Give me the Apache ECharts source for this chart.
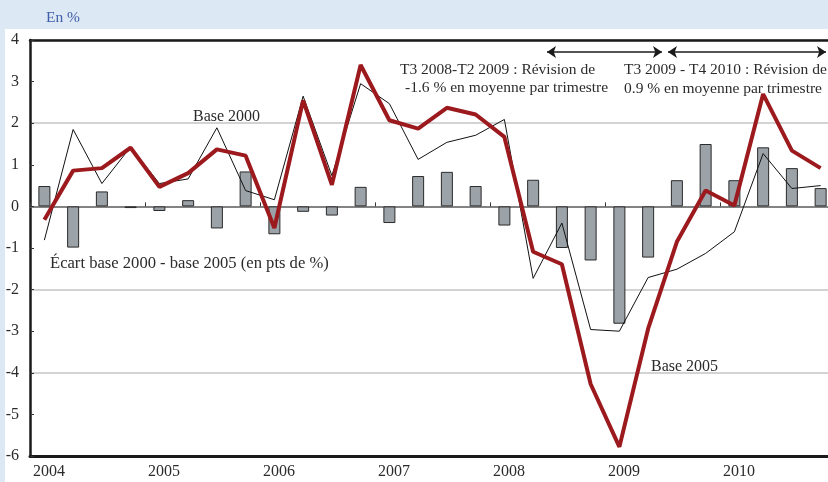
<!DOCTYPE html>
<html lang="fr">
<head>
    <meta charset="UTF-8">
    <title>Base 2000 / Base 2005</title>
    <style>
        html, body { margin: 0; padding: 0; overflow: hidden; background: #dde8f5; }
    </style>
</head>
<body>
<div id="container" style="width: 845px; height: 482px;"></div>

<script type="text/javascript" src="https://cdn.jsdelivr.net/npm/echarts@6/dist/echarts.min.js"></script>
<script type="text/javascript">
    // trimestres 2004T1 - 2010T4
    var quarters = [
        '2004T1', '2004T2', '2004T3', '2004T4',
        '2005T1', '2005T2', '2005T3', '2005T4',
        '2006T1', '2006T2', '2006T3', '2006T4',
        '2007T1', '2007T2', '2007T3', '2007T4',
        '2008T1', '2008T2', '2008T3', '2008T4',
        '2009T1', '2009T2', '2009T3', '2009T4',
        '2010T1', '2010T2', '2010T3', '2010T4'
    ];
    var base2000 = [-0.81, 1.85, 0.55, 1.43, 0.55, 0.66, 1.89, 0.38, 0.16, 2.65, 0.74, 2.95,
        2.47, 1.13, 1.54, 1.71, 2.09, -1.73, -0.40, -2.96, -3.00, -1.71, -1.51, -1.13,
        -0.61, 1.27, 0.43, 0.50];
    var base2005 = [-0.32, 0.86, 0.92, 1.41, 0.47, 0.80, 1.37, 1.22, -0.52, 2.55, 0.52, 3.40,
        2.07, 1.87, 2.37, 2.21, 1.67, -1.09, -1.39, -4.27, -5.78, -2.94, -0.85, 0.38,
        0.02, 2.70, 1.34, 0.92];
    var ecart = [0.49, -0.99, 0.36, -0.04, -0.11, 0.15, -0.53, 0.84, -0.67, -0.13, -0.22, 0.47,
        -0.40, 0.73, 0.83, 0.49, -0.46, 0.64, -1.00, -1.30, -2.82, -1.23, 0.63, 1.50,
        0.63, 1.42, 0.92, 0.44];

    var serif = '"Liberation Serif", "DejaVu Serif", serif';
    var textColor = '#2b2b2b';

    function yearLabel(value, index) {
        return value.slice(0, 4);
    }

    function note(text, left, top, size) {
        return {
            type: 'text',
            left: left,
            top: top,
            z: 20,
            style: {
                text: text,
                fill: textColor,
                font: (size || 16) + 'px ' + serif
            }
        };
    }

    var myChart = echarts.init(document.getElementById('container'));

    var option = {
        animation: false,
        backgroundColor: '#dde8f5',
        title: {
            text: 'En %',
            left: 41,
            top: 5,
            textStyle: {
                color: '#3f5fa8',
                fontFamily: serif,
                fontSize: 15.5,
                fontWeight: 'normal'
            }
        },
        grid: {
            left: 30,
            top: 40,
            right: 10,
            bottom: 26
        },
        graphic: [
            {
                type: 'rect',
                left: 5,
                top: 29,
                z: -10,
                shape: { width: 845, height: 460 },
                style: { fill: '#ffffff' }
            },
            note('Base 2000', 193, 109),
            note('Écart base 2000 - base 2005 (en pts de %)', 50, 255, 16.6),
            note('T3 2008-T2 2009 : Révision de', 400, 62, 15.5),
            note('-1.6 % en moyenne par trimestre', 405, 80, 15.5),
            note('T3 2009 - T4 2010 : Révision de', 624, 62, 15.5),
            note('0.9 % en moyenne par trimestre', 624, 81, 15.5),
            note('Base 2005', 651, 359)
        ],
        xAxis: [
            {
                type: 'category',
                data: quarters,
                position: 'bottom',
                axisLine: { onZero: false, lineStyle: { color: '#1a1a1a', width: 3 } },
                axisTick: { show: false },
                axisLabel: {
                    interval: 3,
                    formatter: yearLabel,
                    color: textColor,
                    fontFamily: serif,
                    fontSize: 16,
                    margin: 8,
                    padding: [0, 0, 0, 9]
                },
                splitLine: { show: false }
            },
            {
                type: 'category',
                data: quarters,
                position: 'top',
                axisLine: { onZero: false, lineStyle: { color: '#1a1a1a', width: 2.5 } },
                axisTick: { show: false },
                axisLabel: { show: false }
            },
            {
                type: 'category',
                data: quarters,
                position: 'bottom',
                axisLine: { onZero: true, lineStyle: { color: '#6a6a6a', width: 1.5 } },
                axisTick: { show: true, interval: 3, inside: true, length: 4, lineStyle: { color: '#333', width: 1 } },
                axisLabel: { show: false }
            }
        ],
        yAxis: {
            type: 'value',
            min: -6,
            max: 4,
            interval: 1,
            axisLine: { show: true, lineStyle: { color: '#1a1a1a', width: 2.5 } },
            axisTick: { show: true, inside: true, length: 4, lineStyle: { color: '#333', width: 1 } },
            axisLabel: {
                color: textColor,
                fontFamily: serif,
                fontSize: 16,
                margin: 11
            },
            splitLine: {
                show: true,
                lineStyle: { color: ['#c4c4c4', 'rgba(0,0,0,0)'], width: 1.5 }
            }
        },
        series: [
            {
                name: 'Écart',
                type: 'bar',
                data: ecart,
                barWidth: 12,
                itemStyle: {
                    color: '#9ba2a8',
                    borderColor: '#2a2a2a',
                    borderWidth: 1
                },
                z: 2,
                markLine: {
                    silent: true,
                    symbol: ['arrow', 'arrow'],
                    symbolSize: 9,
                    label: { show: false },
                    lineStyle: { color: '#1a1a1a', width: 1.5, type: 'solid' },
                    data: [
                        [{ x: 547, y: 52 }, { x: 662, y: 52 }],
                        [{ x: 668, y: 52 }, { x: 826, y: 52 }]
                    ]
                }
            },
            {
                name: 'Base 2000',
                type: 'line',
                data: base2000,
                symbol: 'none',
                lineStyle: { color: '#111', width: 1 },
                z: 3
            },
            {
                name: 'Base 2005',
                type: 'line',
                data: base2005,
                symbol: 'none',
                lineStyle: { color: '#9c1a1e', width: 4 },
                z: 4
            }
        ]
    };

    if (option && typeof option === 'object') {
        myChart.setOption(option);
    }
</script>
</body>
</html>
